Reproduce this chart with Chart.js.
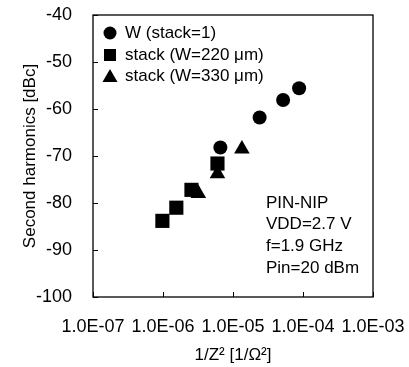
<!DOCTYPE html>
<html>
<head>
<meta charset="utf-8">
<script src="https://cdn.jsdelivr.net/npm/chart.js@4"></script>
<style>
  html, body { margin: 0; padding: 0; background: #fff; }
</style>
</head>
<body>
<canvas id="chart" width="409" height="367"></canvas>
<script>
// --- data ---
const xTicks = [1e-7, 1e-6, 1e-5, 1e-4, 1e-3];
const yTicks = [-100, -90, -80, -70, -60, -50, -40];

const wX = [6.6e-6, 2.4e-5, 5.2e-5, 8.8e-5];
const wY = [-68.2, -61.8, -58.1, -55.6];
const s220X = [9.8e-7, 1.55e-6, 2.55e-6, 6.0e-6];
const s220Y = [-83.8, -81.0, -77.2, -71.6];
const s330X = [3.2e-6, 6.0e-6, 1.34e-5];
const s330Y = [-78.0, -73.8, -68.5];

const seriesLabels = ["W (stack=1)", "stack (W=220 \u03bcm)", "stack (W=330 \u03bcm)"];
const noteLines = ["PIN-NIP", "VDD=2.7 V", "f=1.9 GHz", "Pin=20 dBm"];

const FONT = "'Liberation Sans', Arial, sans-serif";
const pts = (xs, ys) => xs.map((x, i) => ({x, y: ys[i]}));

const sciLabel = (v) => {
  const e = Math.round(Math.log10(v));
  const m = (v / Math.pow(10, e)).toFixed(1);
  return m + "E" + (e < 0 ? "-" : "+") + String(Math.abs(e)).padStart(2, "0");
};

// box frame, inward tick marks, legend inside the plot, condition notes
const framePlugin = {
  id: "frame",
  afterDraw(chart) {
    const {ctx, chartArea: a, scales: {x, y}} = chart;
    ctx.save();
    ctx.strokeStyle = "#000";
    ctx.lineWidth = 1.3;
    ctx.strokeRect(a.left, a.top, a.right - a.left, a.bottom - a.top);
    ctx.beginPath();
    xTicks.forEach(v => {
      const px = Math.round(x.getPixelForValue(v)) + 0.5;
      ctx.moveTo(px, a.bottom); ctx.lineTo(px, a.bottom - 5);
    });
    yTicks.forEach(v => {
      const py = Math.round(y.getPixelForValue(v)) + 0.5;
      ctx.moveTo(a.left, py); ctx.lineTo(a.left + 5, py);
    });
    ctx.lineWidth = 1;
    ctx.stroke();

    // legend
    ctx.fillStyle = "#000";
    ctx.font = "17px " + FONT;
    ctx.textBaseline = "middle";
    const mx = a.left + 17, tx = a.left + 32;
    const rows = [a.top + 18, a.top + 40, a.top + 61];
    ctx.beginPath(); ctx.arc(mx, rows[0], 6.5, 0, Math.PI * 2); ctx.fill();
    ctx.fillRect(mx - 6, rows[1] - 6, 12, 12);
    ctx.beginPath();
    ctx.moveTo(mx, rows[2] - 7); ctx.lineTo(mx + 7.5, rows[2] + 6); ctx.lineTo(mx - 7.5, rows[2] + 6);
    ctx.closePath(); ctx.fill();
    seriesLabels.forEach((t, i) => ctx.fillText(t, tx, rows[i]));

    noteLines.forEach((t, i) => ctx.fillText(t, a.left + 173, 203 + 21.8 * i));
    ctx.restore();
  }
};

new Chart(document.getElementById("chart").getContext("2d"), {
  type: "scatter",
  data: {
    datasets: [
      {label: seriesLabels[0], data: pts(wX, wY), pointStyle: "circle", pointRadius: 7,
       backgroundColor: "#000", borderColor: "#000", borderWidth: 0},
      {label: seriesLabels[1], data: pts(s220X, s220Y), pointStyle: "rect", pointRadius: 10,
       backgroundColor: "#000", borderColor: "#000", borderWidth: 0},
      {label: seriesLabels[2], data: pts(s330X, s330Y), pointStyle: "triangle", pointRadius: 9,
       backgroundColor: "#000", borderColor: "#000", borderWidth: 0}
    ]
  },
  options: {
    responsive: false,
    animation: false,
    devicePixelRatio: 1,
    layout: {padding: {left: 0, top: 15, right: 36, bottom: 0}},
    plugins: {legend: {display: false}, tooltip: {enabled: false}},
    scales: {
      x: {
        type: "logarithmic",
        min: 1e-7, max: 1e-3,
        grid: {display: false, drawTicks: false},
        border: {display: false},
        afterBuildTicks: (s) => { s.ticks = xTicks.map(v => ({value: v})); },
        afterFit: (s) => { s.height = 70; s.paddingLeft = 0; s.paddingRight = 0; },
        ticks: {autoSkip: false, maxRotation: 0, padding: 19, color: "#000",
                font: {family: FONT, size: 18}, callback: (v) => sciLabel(v)},
        title: {display: true, text: "1/Z\u00b2 [1/\u03a9\u00b2]", color: "#000",
                font: {family: FONT, size: 17}, padding: {top: 0, bottom: 1}}
      },
      y: {
        min: -100, max: -40,
        grid: {display: false, drawTicks: false},
        border: {display: false},
        afterBuildTicks: (s) => { s.ticks = yTicks.map(v => ({value: v})); },
        afterFit: (s) => { s.width = 93; s.paddingTop = 0; s.paddingBottom = 0; },
        ticks: {padding: 21, color: "#000", font: {family: FONT, size: 18}},
        title: {display: true, text: "Second harmonics [dBc]", color: "#000",
                font: {family: FONT, size: 17}, padding: {top: 20, bottom: 0}}
      }
    }
  },
  plugins: [framePlugin]
});
</script>
</body>
</html>
